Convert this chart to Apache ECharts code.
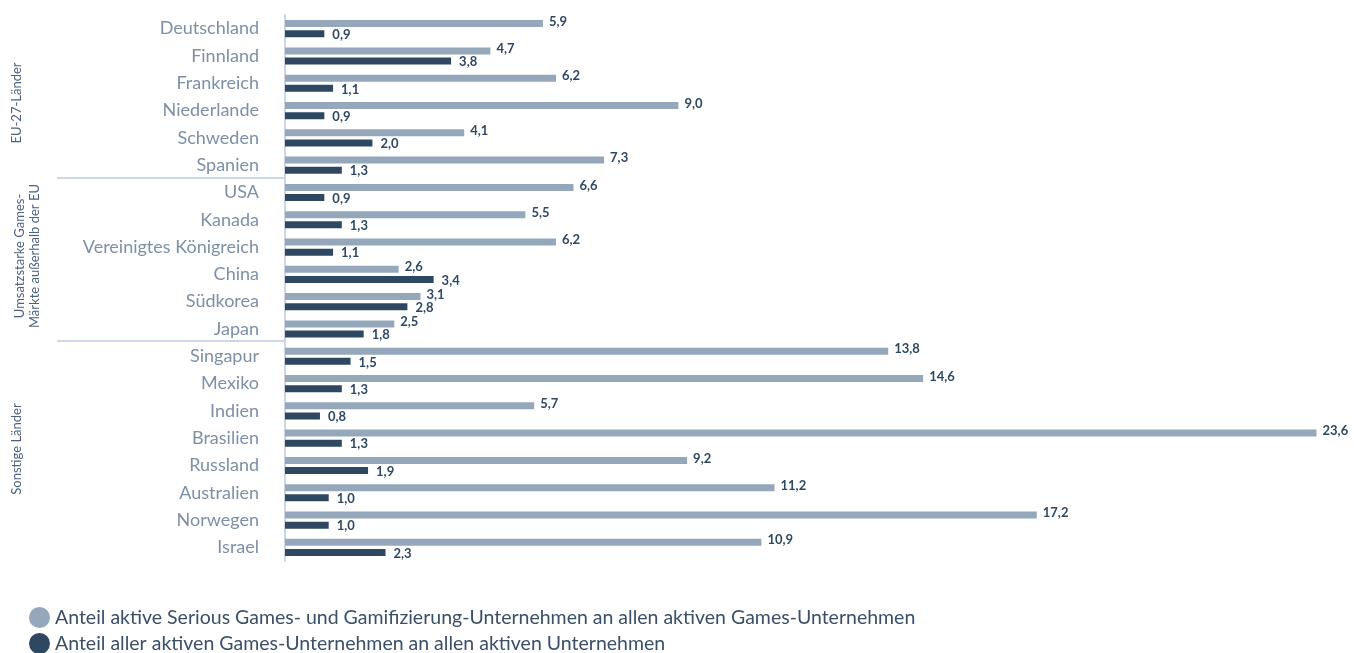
<!DOCTYPE html>
<html>
<head>
<meta charset="utf-8">
<script src="https://cdn.jsdelivr.net/npm/echarts@6/dist/echarts.min.js"></script>
<style>
    html, body { margin: 0; padding: 0; background: #fff; }
    #main { width: 1354px; height: 653px; }
</style>
</head>
<body>
<div id="main"></div>
<script>
var laender = ['Deutschland', 'Finnland', 'Frankreich', 'Niederlande', 'Schweden', 'Spanien',
    'USA', 'Kanada', 'Vereinigtes Königreich', 'China', 'Südkorea', 'Japan',
    'Singapur', 'Mexiko', 'Indien', 'Brasilien', 'Russland', 'Australien', 'Norwegen', 'Israel'];
var seriousGames = [5.9, 4.7, 6.2, 9.0, 4.1, 7.3, 6.6, 5.5, 6.2, 2.6, 3.1, 2.5,
    13.8, 14.6, 5.7, 23.6, 9.2, 11.2, 17.2, 10.9];
var gamesAnteil = [0.9, 3.8, 1.1, 0.9, 2.0, 1.3, 0.9, 1.3, 1.1, 3.4, 2.8, 1.8,
    1.5, 1.3, 0.8, 1.3, 1.9, 1.0, 1.0, 2.3];
var serienNamen = ['Anteil aktive Serious Games- und Gamifizierung-Unternehmen an allen aktiven Games-Unternehmen',
    'Anteil aller aktiven Games-Unternehmen an allen aktiven Unternehmen'];

var hell = '#94a7bb', dunkel = '#2e4862';
var schrift = 'Lato, "Open Sans", sans-serif';

function zahl(p) {
    return p.value.toFixed(1).replace('.', ',');
}

// eine Legende je Zeile, damit sie untereinander stehen
function legende(name, top) {
    return {
        left: 24,
        top: top,
        icon: 'circle',
        itemWidth: 21,
        itemHeight: 21,
        itemGap: 5,
        textStyle: { fontSize: 19.5, color: '#3b4f68', fontFamily: schrift },
        data: [name]
    };
}

var chart = echarts.init(document.getElementById('main'));

var option = {
    backgroundColor: '#fff',
    animation: false,
    textStyle: { fontFamily: schrift },
    grid: { left: 285, right: 20, top: 15, bottom: 92, containLabel: false },
    legend: [legende(serienNamen[0], 602), legende(serienNamen[1], 628)],
    xAxis: {
        type: 'value',
        min: 0,
        max: 24,
        show: false
    },
    yAxis: {
        type: 'category',
        inverse: true,
        data: laender,
        axisLine: { show: true, lineStyle: { color: '#ccd6e6', width: 2 } },
        axisTick: { show: false },
        axisLabel: { fontSize: 18, color: '#7d90a6', margin: 26, padding: [6, 0, 0, 0], fontFamily: schrift }
    },
    series: [{
        name: serienNamen[0],
        type: 'bar',
        data: seriousGames,
        barWidth: 7,
        barGap: '45%',
        itemStyle: { color: hell },
        label: {
            show: true, position: 'right', distance: 6, offset: [0, -2],
            fontSize: 13, fontWeight: 'bold', color: '#2e4862', formatter: zahl
        }
    }, {
        name: serienNamen[1],
        type: 'bar',
        data: gamesAnteil,
        barWidth: 7,
        itemStyle: { color: dunkel },
        label: {
            show: true, position: 'right', distance: 8, offset: [0, 1],
            fontSize: 13, fontWeight: 'bold', color: '#2e4862', formatter: zahl
        }
    }],
    graphic: [
        { type: 'line', shape: { x1: 57, y1: 178, x2: 284, y2: 178 }, style: { stroke: '#ccd6e6', lineWidth: 2 } },
        { type: 'line', shape: { x1: 57, y1: 341, x2: 284, y2: 341 }, style: { stroke: '#ccd6e6', lineWidth: 2 } },
        { type: 'text', x: 17, y: 103, rotation: Math.PI / 2,
          style: { text: 'EU-27-Länder', fontSize: 13, fill: '#4c6280', fontFamily: schrift, align: 'center', verticalAlign: 'middle' } },
        { type: 'text', x: 27, y: 256, rotation: Math.PI / 2,
          style: { text: 'Umsatzstarke Games-\nMärkte außerhalb der EU', fontSize: 13, lineHeight: 15, fill: '#4c6280', fontFamily: schrift, align: 'center', verticalAlign: 'middle' } },
        { type: 'text', x: 17, y: 449, rotation: Math.PI / 2,
          style: { text: 'Sonstige Länder', fontSize: 13, fill: '#4c6280', fontFamily: schrift, align: 'center', verticalAlign: 'middle' } }
    ]
};

chart.setOption(option);
window.onresize = function () { chart.resize(); };
</script>
</body>
</html>
